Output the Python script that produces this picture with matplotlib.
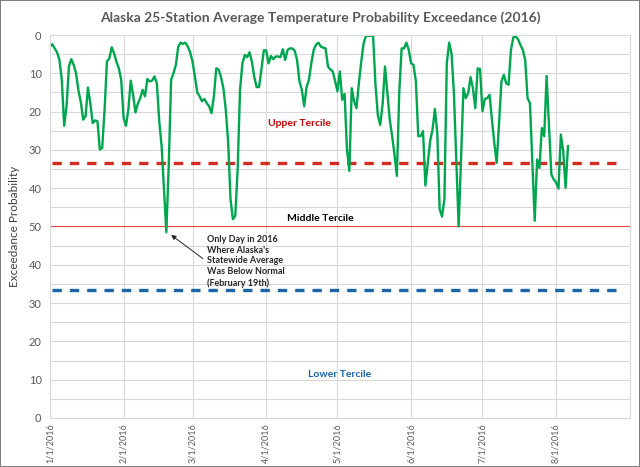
#!/usr/bin/env python3
"""Alaska 25-station average temperature probability exceedance, 2016."""

import matplotlib
matplotlib.use('Agg')
import matplotlib.pyplot as plt
import matplotlib.dates as mdates
import numpy as np
import pandas as pd

plt.rcParams['font.family'] = ['Lato', 'DejaVu Sans']

# daily exceedance probability (0 at top, 50 in the middle)
start_date = '2016-01-01'
exceedance = [
    3, 2.4, 3.5, 4.5, 6.5, 11.7, 23.7, 18.6, 8.2, 6.3,
    7.8, 10, 14.5, 17.5, 22.1, 21.2, 13.7, 17.8, 23, 22.3,
    22.5, 29.9, 29.5, 19.5, 6.9, 6.1, 3.2, 4.8, 7, 8.7,
    11.7, 21.7, 23.7, 19.5, 11.9, 15.6, 20.2, 17.9, 16.5, 14.3,
    16, 11.5, 12.1, 11.9, 10.8, 12.6, 22.5, 29, 40, 51.5,
    34, 11.7, 10, 7.8, 3, 2, 2.3, 2, 3, 4.5,
    6.9, 10.8, 15, 16, 17.3, 16.7, 17.8, 18.6, 20.4, 16,
    8.7, 9, 11, 13.9, 19.5, 28, 42.9, 48.1, 47.2, 35,
    14.3, 7.4, 5.2, 5.8, 4.5, 7, 11, 13.6, 13.6, 9,
    4, 4, 7.4, 5.5, 6.3, 5.6, 5.6, 5.8, 3.7, 6.5,
    3.9, 3.5, 3.5, 4.1, 6.5, 12.1, 14.3, 18.6, 13.6, 11.7,
    7.4, 3.9, 2.5, 2, 3, 3.3, 3.5, 8.2, 9, 9.5,
    12, 14.7, 9.5, 16.9, 15.4, 29.9, 35.5, 13.9, 17.3, 19.1,
    12.6, 7, 2.2, 0.2, 0.2, 0.2, 0.3, 13, 21, 23.5,
    18, 8.2, 15, 22.1, 26.4, 31.2, 36.8, 15, 3.5, 3.5,
    2, 3.9, 7.4, 7.8, 12.1, 26.4, 26.4, 25.1, 39.3, 33.4,
    27.7, 24.7, 19.3, 25.6, 45.5, 47.4, 42.9, 7.4, 2, 4.8,
    15.2, 32.5, 50, 32.5, 13.9, 16.5, 15.2, 11, 13.9, 19.1,
    8.7, 8.9, 19.9, 16.7, 16.5, 15.6, 22.1, 28.2, 33.4, 23,
    12.1, 10.4, 12.6, 13, 3.9, 0.6, 0.4, 1.1, 2.6, 3.9,
    6.5, 16.5, 17.8, 33.4, 48.5, 32.5, 34.7, 24.3, 26.4, 10.7,
    23.8, 36.4, 37.7, 38.5, 40.1, 26, 30.3, 39.9, 29,
]

y_ticks = [0, 10, 20, 30, 40, 50, 60, 70, 80, 90, 100]
y_tick_labels = ['0', '10', '20', '30', '40', '50', '40', '30', '20', '10', '0']
month_ticks = ['2016-01-01', '2016-02-01', '2016-03-01', '2016-04-01',
               '2016-05-01', '2016-06-01', '2016-07-01', '2016-08-01']

upper_tercile = 100 / 3
lower_tercile = 200 / 3
median_line = 50

GREEN = '#00a550'
RED = '#d42a20'
BLUE = '#1a64a8'
GRID = '#d9d9d9'
TEXT = '#595959'


def main():
    dates = pd.date_range(start_date, periods=len(exceedance), freq='D')

    fig = plt.figure(figsize=(6.4, 4.67), dpi=100, linewidth=1.2, edgecolor='#808080')
    ax = fig.add_axes([0.078, 0.105, 0.906, 0.820])

    x_min = pd.Timestamp('2016-01-01')
    x_max = pd.Timestamp('2016-09-01')
    ax.set_xlim(x_min, x_max)
    ax.set_ylim(100, 0)

    # grid: labelled every 10, extra lines every 5
    ax.set_yticks(y_ticks)
    ax.set_yticklabels(y_tick_labels, fontsize=8, color=TEXT)
    ax.set_yticks(np.arange(5, 100, 10), minor=True)
    ax.grid(which='both', axis='y', color=GRID, linewidth=0.8)
    ax.set_xticks(pd.to_datetime(month_ticks))
    ax.xaxis.set_major_formatter(mdates.DateFormatter('%-m/%-d/%Y'))
    ax.grid(which='major', axis='x', color=GRID, linewidth=0.8)
    ax.set_axisbelow(True)
    ax.tick_params(axis='x', labelrotation=90, labelsize=6.5, labelcolor=TEXT, pad=4)
    ax.tick_params(axis='y', pad=6)
    ax.tick_params(which='both', length=0)
    for s in ax.spines.values():
        s.set_color(GRID)
        s.set_linewidth(0.8)

    # tercile reference lines
    ax.axhline(upper_tercile, xmin=0.004, xmax=0.985, color=RED, lw=2.4, dashes=(2.8, 2.4))
    ax.axhline(lower_tercile, xmin=0.004, xmax=0.985, color=BLUE, lw=2.4, dashes=(2.8, 2.4))
    ax.axhline(median_line, color='#e04a40', lw=0.8)

    ax.plot(dates, exceedance, color=GREEN, lw=1.7, solid_joinstyle='round')

    ax.text(pd.Timestamp('2016-04-15'), 23, 'Upper Tercile', color='#c00000',
            fontsize=7.5, fontweight='bold', ha='center', va='center')
    ax.text(pd.Timestamp('2016-04-24'), 47.8, 'Middle Tercile', color='black',
            fontsize=7.5, fontweight='bold', ha='center', va='center')
    ax.text(pd.Timestamp('2016-05-02'), 88.7, 'Lower Tercile', color=BLUE,
            fontsize=7.5, fontweight='bold', ha='center', va='center')

    ax.annotate('Only Day in 2016\nWhere Alaska\'s\nStatewide Average\nWas Below Normal\n(February 19th)',
                xy=(pd.Timestamp('2016-02-21'), 52.2),
                xytext=(pd.Timestamp('2016-03-07'), 52.2),
                fontsize=6.5, fontweight='bold', color='#262626',
                ha='left', va='top', linespacing=1.25,
                arrowprops=dict(arrowstyle='-|>', color='#262626', lw=0.7,
                                mutation_scale=7, shrinkA=0, shrinkB=0,
                                relpos=(-0.05, 0.55)))

    ax.set_ylabel('Exceedance Probability', fontsize=8.5, color='#404040', labelpad=6)

    fig.text(0.5, 0.963, 'Alaska 25-Station Average Temperature Probability Exceedance (2016)',
             fontsize=10, fontweight='bold', color='#595959', ha='center', va='center')

    fig.savefig('out.png', dpi=100, facecolor='white', edgecolor=fig.get_edgecolor())
    plt.close(fig)


if __name__ == '__main__':
    main()
